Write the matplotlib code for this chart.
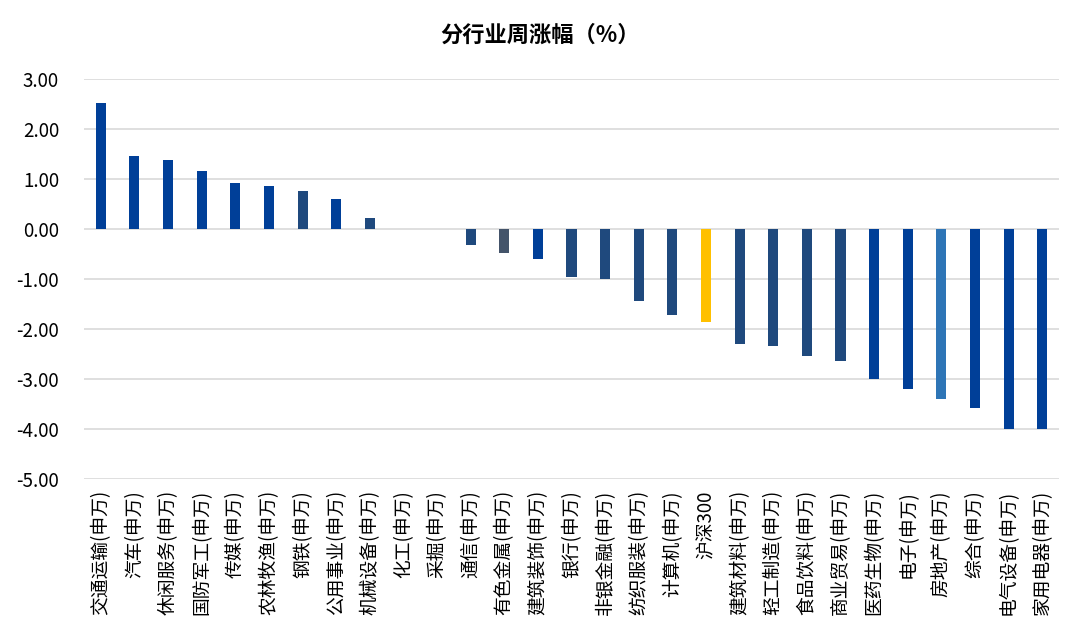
import matplotlib
matplotlib.use("Agg")
import matplotlib.pyplot as plt
import numpy as np

plt.rcParams['font.family'] = ['Noto Sans CJK SC', 'DejaVu Sans']

# 分行业周涨幅 data
industries = ['交通运输(申万)', '汽车(申万)', '休闲服务(申万)', '国防军工(申万)', '传媒(申万)',
              '农林牧渔(申万)', '钢铁(申万)', '公用事业(申万)', '机械设备(申万)', '化工(申万)',
              '采掘(申万)', '通信(申万)', '有色金属(申万)', '建筑装饰(申万)', '银行(申万)',
              '非银金融(申万)', '纺织服装(申万)', '计算机(申万)', '沪深300', '建筑材料(申万)',
              '轻工制造(申万)', '食品饮料(申万)', '商业贸易(申万)', '医药生物(申万)', '电子(申万)',
              '房地产(申万)', '综合(申万)', '电气设备(申万)', '家用电器(申万)']
weekly_change = [2.52, 1.47, 1.39, 1.16, 0.93, 0.86, 0.77, 0.61, 0.23, 0.0,
                 0.0, -0.32, -0.47, -0.60, -0.95, -0.99, -1.43, -1.71, -1.86, -2.29,
                 -2.33, -2.54, -2.63, -3.00, -3.19, -3.39, -3.57, -3.99, -3.99]
# colour group per bar: b = bright blue, n = navy, g = grey, y = index, l = light blue
color_group = ['b', 'b', 'b', 'b', 'b', 'b', 'n', 'b', 'n', 'b',
               'b', 'n', 'g', 'b', 'n', 'n', 'n', 'n', 'y', 'n',
               'n', 'n', 'n', 'b', 'b', 'l', 'b', 'b', 'b']
palette = {'b': '#003F98', 'n': '#1F497D', 'g': '#44546A', 'y': '#FFC000', 'l': '#2E75B6'}
bar_colors = [palette[c] for c in color_group]

fig = plt.figure(figsize=(10.8, 6.32), dpi=100)
ax = fig.add_axes([0.0778, 0.242, 0.9028, 0.633])

x = np.arange(len(industries))
ax.bar(x, weekly_change, width=0.3, color=bar_colors, zorder=3)

ax.set_ylim(-5, 3)
ax.set_yticks(np.arange(-5, 3.01, 1))
ax.set_yticklabels(['%.2f' % v for v in np.arange(-5, 3.01, 1)], fontsize=13.5)
ax.set_xlim(-0.5, len(industries) - 0.5)
ax.set_xticks(x)
ax.set_xticklabels(industries, rotation=90, fontsize=13.5, va='top')
ax.tick_params(axis='y', length=0, pad=18)
ax.tick_params(axis='x', length=0, pad=8)
ax.grid(axis='y', color='#D9D9D9', linewidth=1.2, zorder=0)
for s in ax.spines.values():
    s.set_visible(False)

fig.text(0.5, 0.945, '分行业周涨幅（%）', ha='center', va='center', fontsize=16, fontweight='bold')

fig.savefig('out.png', dpi=100)
